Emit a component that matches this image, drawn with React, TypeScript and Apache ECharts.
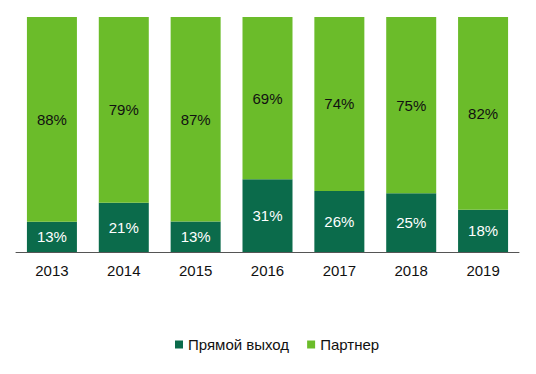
import React, { useEffect, useRef } from "react";
import * as echarts from "echarts";

const years = ["2013", "2014", "2015", "2016", "2017", "2018", "2019"];
const direct = [13, 21, 13, 31, 26, 25, 18];
const partner = [88, 79, 87, 69, 74, 75, 82];

const DARK = "#0B6B4B";
const LIGHT = "#6BBC2A";

export default function App() {
  const ref = useRef<HTMLDivElement>(null);
  useEffect(() => {
    if (!ref.current) return;
    const chart = echarts.init(ref.current, undefined, { renderer: "svg" });
    const totals = direct.map((d, i) => d + partner[i]);
    const font = "'Liberation Sans', Arial, sans-serif";
    chart.setOption({
      animation: false,
      grid: { left: 8, right: 9, top: 9, bottom: 114 },
      legend: {
        top: 324,
        left: 162,
        itemWidth: 8,
        itemHeight: 8,
        itemGap: 18,
        icon: "rect",
        textStyle: { fontFamily: font, fontSize: 15, color: "#111" },
        data: ["Прямой выход", "Партнер"],
      },
      xAxis: {
        type: "category",
        data: years,
        axisTick: { show: false },
        axisLine: { lineStyle: { color: "#555", width: 1 } },
        axisLabel: { fontFamily: font, fontSize: 15, color: "#111", margin: 11 },
      },
      yAxis: { type: "value", min: 0, max: 100, show: false, splitLine: { show: false } },
      series: [
        {
          name: "Прямой выход",
          type: "bar",
          stack: "s",
          barWidth: 50,
          itemStyle: { color: DARK },
          data: direct.map((v, i) => (v / totals[i]) * 100),
          label: {
            show: true,
            position: "inside",
            color: "#fff",
            fontFamily: font,
            fontSize: 15,
            formatter: (p: any) => direct[p.dataIndex] + "%",
          },
        },
        {
          name: "Партнер",
          type: "bar",
          stack: "s",
          barWidth: 50,
          itemStyle: { color: LIGHT },
          data: partner.map((v, i) => (v / totals[i]) * 100),
          label: {
            show: true,
            position: "inside",
            color: "#111",
            fontFamily: font,
            fontSize: 15,
            formatter: (p: any) => partner[p.dataIndex] + "%",
          },
        },
      ],
    });
    return () => chart.dispose();
  }, []);
  return <div ref={ref} style={{ width: 520, height: 358 }} />;
}
